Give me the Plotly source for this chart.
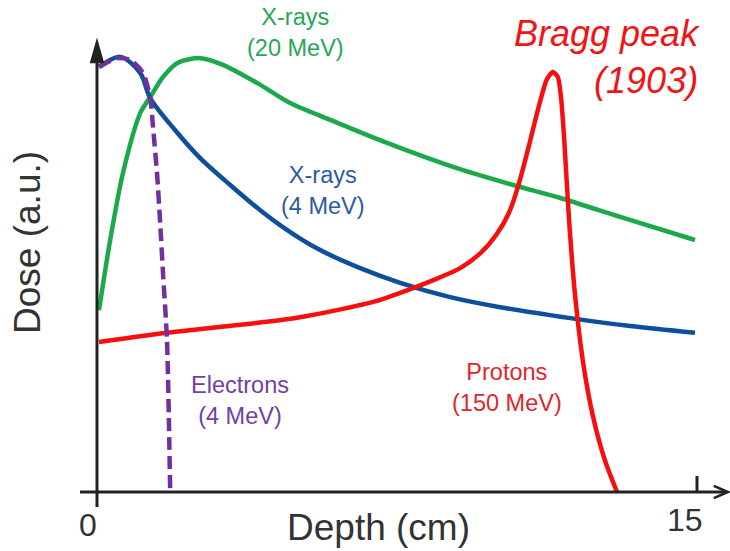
import plotly.graph_objects as go

# Depth-dose curves (depth in cm, dose in arbitrary units, Bragg peak = 100)
xray20_depth = [0.05, 0.33, 0.65, 1.08, 1.33, 1.65, 2.0, 2.58, 3.15, 4.0, 4.83, 5.83, 7.25, 8.9, 10.4, 11.58, 13.08, 14.95]
xray20_dose = [43.3, 60.0, 76.0, 90.2, 94.0, 98.8, 102.1, 103.3, 101.7, 97.4, 92.6, 88.6, 83.1, 77.4, 73.1, 70.0, 65.5, 60.0]

xray4_depth = [0.05, 0.58, 1.08, 1.33, 1.95, 2.58, 3.33, 4.08, 4.83, 5.58, 6.58, 7.58, 8.83, 10.08, 11.83, 13.33, 14.95]
xray4_dose = [101.2, 103.6, 99.8, 93.8, 86.2, 79.5, 73.1, 67.1, 61.9, 57.6, 53.3, 49.8, 46.4, 44.0, 41.4, 39.5, 37.9]

electron_depth = [0.05, 0.5, 0.83, 1.15, 1.33, 1.4, 1.5, 1.58, 1.65, 1.75, 1.83]
electron_dose = [101.2, 103.3, 102.9, 99.8, 94.0, 86.9, 76.0, 64.0, 52.1, 36.2, 0.0]

proton_depth = [0.05, 1.75, 3.58, 5.0, 6.0, 7.0, 7.75, 8.5, 9.08, 9.6, 10.0, 10.3, 10.55, 10.8, 11.05, 11.25, 11.4,
                11.52, 11.6, 11.68, 11.8, 11.95, 12.15, 12.4, 12.7, 13.0]
proton_dose = [35.7, 37.9, 39.8, 41.5, 43.3, 45.5, 48.0, 50.8, 53.3, 57.0, 61.5, 66.5, 73.5, 82.5, 92.0, 98.3, 100.0,
               98.8, 94.0, 84.0, 65.0, 47.0, 31.0, 18.0, 7.5, 0.0]

x_ticks = [0, 15]
x_tick_text = ["0", "15"]

GREEN = "#1ca94c"
BLUE = "#0e4f9c"
RED = "#f50f0f"
PURPLE = "#7030a0"
AXIS = "#222222"
TEXT = "#333333"
FONT = "Liberation Sans, Arial, sans-serif"

fig = go.Figure()
fig.add_trace(go.Scatter(x=xray20_depth, y=xray20_dose, mode="lines",
                         line=dict(color=GREEN, width=4.5, shape="spline", smoothing=0.8)))
fig.add_trace(go.Scatter(x=xray4_depth, y=xray4_dose, mode="lines",
                         line=dict(color=BLUE, width=4.5, shape="spline", smoothing=0.9)))
fig.add_trace(go.Scatter(x=proton_depth, y=proton_dose, mode="lines",
                         line=dict(color=RED, width=4.5, shape="spline", smoothing=0.7)))
fig.add_trace(go.Scatter(x=electron_depth, y=electron_dose, mode="lines",
                         line=dict(color=PURPLE, width=4.5, shape="spline", smoothing=0.6, dash="13px,6px")))

shapes = []
# axis lines
shapes.append(dict(type="line", x0=-0.425, x1=15.75, y0=0, y1=0, line=dict(color=AXIS, width=3)))
shapes.append(dict(type="line", x0=0, x1=0, y0=-3.6, y1=106.5, line=dict(color=AXIS, width=3)))
# tick at the right end of the depth axis
shapes.append(dict(type="line", x0=x_ticks[1], x1=x_ticks[1], y0=0, y1=3.8, line=dict(color=AXIS, width=3)))
# arrow heads
shapes.append(dict(type="path", path="M 15.42,1.45 L 15.77,0 L 15.42,-1.45",
                   line=dict(color=AXIS, width=2.5)))
shapes.append(dict(type="path", path="M -0.14,102.4 L 0,107.1 L 0.14,102.4 Z",
                   fillcolor=AXIS, line=dict(color=AXIS, width=2.5)))

annotations = []


def label(text, x, y, color, size, **kw):
    annotations.append(dict(text=text, x=x, y=y, xref="x", yref="y", showarrow=False,
                            font=dict(family=FONT, size=size, color=color), **kw))


label("X-rays<br>(20 MeV)", 4.95, 109.5, "#27a65a", 23.5)
label("X-rays<br>(4 MeV)", 5.65, 71.7, "#2c5c9e", 23.5)
label("Electrons<br>(4 MeV)", 3.575, 21.9, "#7440a2", 23.5)
label("Protons<br>(150 MeV)", 10.25, 24.8, "#e0262b", 23.5)
label("<i>Bragg peak</i><br><i>(1903)</i>", 15.125, 103.6, "#f01414", 36,
      xanchor="right", align="right")
label("Dose (a.u.)", -1.725, 59.3, TEXT, 37, textangle=-90)
label("Depth (cm)", 7.025, -8.5, TEXT, 37)
label(x_tick_text[0], x_ticks[0] - 0.225, -7.86, TEXT, 32)
label(x_tick_text[1], x_ticks[1] - 0.3, -6.67, TEXT, 32)

fig.update_layout(
    width=730, height=551,
    margin=dict(l=0, r=0, t=0, b=0),
    paper_bgcolor="white", plot_bgcolor="white",
    showlegend=False,
    shapes=shapes, annotations=annotations,
    xaxis=dict(range=[-2.425, 15.825], visible=False, fixedrange=True),
    yaxis=dict(range=[-14.05, 117.14], visible=False, fixedrange=True),
)

fig.write_html("out.html")
